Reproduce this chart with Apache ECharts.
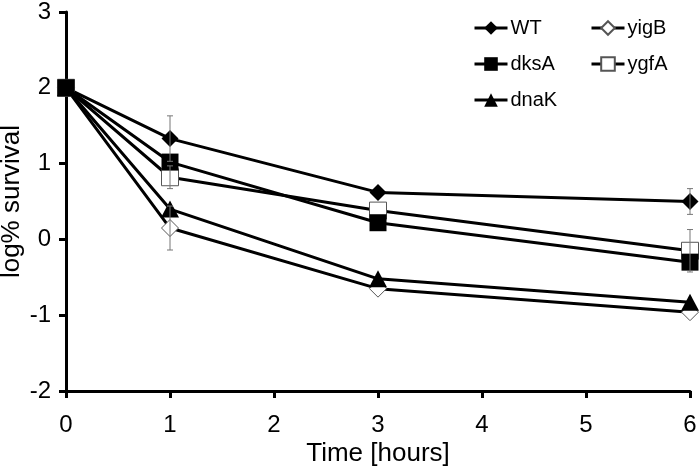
<!DOCTYPE html>
<html><head><meta charset="utf-8">
<script src="https://cdn.jsdelivr.net/npm/echarts@6/dist/echarts.min.js"></script>
<style>html,body{margin:0;padding:0;background:#fff}#c{width:700px;height:471px}</style>
</head><body><div id="c"></div>
<script>
var times = [0, 1, 3, 6];
var xTicks = [0, 1, 2, 3, 4, 5, 6];
var yTicks = [-2, -1, 0, 1, 2, 3];
var WT   = [2, 1.33, 0.62, 0.50];
var dksA = [2, 1.02, 0.22, -0.30];
var dnaK = [2, 0.40, -0.52, -0.83];
var yigB = [2, 0.15, -0.65, -0.96];
var ygfA = [2, 0.82, 0.38, -0.15];
// error bars: [time, value, error]
var errWT   = [[1, 1.33, 0.30], [6, 0.50, 0.17]];
var errYgfA = [[1, 0.82, 0.15], [6, -0.15, 0.28]];
var errYigB = [[1, 0.15, 0.29]];

function pts(v){ return times.map(function(t,i){ return [t, v[i]]; }); }
var FONT = 'Liberation Sans, Arial, Helvetica, sans-serif';

function lineSeries(name, vals, symbol, open, z){
  return {
    name: name, type: 'line', data: pts(vals), symbol: symbol,
    symbolSize: symbol === 'triangle' ? [18, 17] : 17,
    showAllSymbol: true, z: z,
    lineStyle: {color: '#000', width: 3},
    itemStyle: open ? {color: '#fff', borderColor: '#555', borderWidth: 1}
                    : {color: '#000', borderColor: '#000', borderWidth: 0},
    emphasis: {disabled: true}, animation: false
  };
}
function errSeries(data){
  return {
    type: 'custom', z: 10, silent: true, animation: false,
    data: data,
    renderItem: function(params, api){
      var x = api.value(0), y = api.value(1), e = api.value(2);
      var hi = api.coord([x, y + e]), lo = api.coord([x, y - e]);
      var st = {stroke: '#777', lineWidth: 1};
      return {type: 'group', children: [
        {type: 'line', shape: {x1: hi[0], y1: hi[1], x2: lo[0], y2: lo[1]}, style: st},
        {type: 'line', shape: {x1: hi[0]-3, y1: hi[1], x2: hi[0]+3, y2: hi[1]}, style: st},
        {type: 'line', shape: {x1: lo[0]-3, y1: lo[1], x2: lo[0]+3, y2: lo[1]}, style: st}
      ]};
    }
  };
}

var legendBase = {
  orient: 'vertical', top: 18, padding: 0,
  itemWidth: 33, itemHeight: 17, itemGap: 16,
  lineStyle: {width: 3, color: '#000'},
  textStyle: {fontSize: 20, color: '#000', fontFamily: FONT, padding: [0,0,0,-2]}
};

var chart = echarts.init(document.getElementById('c'), null, {renderer: 'canvas'});
chart.setOption({
  animation: false,
  textStyle: {fontFamily: FONT},
  grid: {left: 66, right: 10, top: 12, bottom: 80, containLabel: false, outerBoundsMode: 'none'},
  legend: [
    Object.assign({}, legendBase, {data: ['WT', 'dksA', 'dnaK'], left: 473}),
    Object.assign({}, legendBase, {data: ['yigB', 'ygfA'], left: 590})
  ],
  xAxis: {
    type: 'value', min: xTicks[0], max: xTicks[xTicks.length-1], interval: 1,
    name: 'Time [hours]', nameLocation: 'middle', nameGap: 50, nameMoveOverlap: false,
    nameTextStyle: {fontSize: 26, color: '#000', fontFamily: FONT},
    axisLine: {show: true, onZero: false, lineStyle: {color: '#000', width: 3}},
    axisTick: {show: true, length: 7, lineStyle: {color: '#000', width: 3}},
    axisLabel: {fontSize: 24, color: '#000', margin: 22, fontFamily: FONT},
    splitLine: {show: false}
  },
  yAxis: {
    type: 'value', min: yTicks[0], max: yTicks[yTicks.length-1], interval: 1,
    name: 'log% survival', nameLocation: 'middle', nameGap: 41, nameMoveOverlap: false,
    nameTextStyle: {fontSize: 26, color: '#000', fontFamily: FONT},
    axisLine: {show: true, onZero: false, lineStyle: {color: '#000', width: 3}},
    axisTick: {show: true, length: 7, lineStyle: {color: '#000', width: 3}},
    axisLabel: {fontSize: 24, color: '#000', margin: 15, fontFamily: FONT},
    splitLine: {show: false}
  },
  series: [
    lineSeries('WT', WT, 'diamond', false, 3),
    lineSeries('yigB', yigB, 'diamond', true, 3),
    lineSeries('ygfA', ygfA, 'rect', true, 3),
    lineSeries('dnaK', dnaK, 'triangle', false, 4),
    lineSeries('dksA', dksA, 'rect', false, 5),
    errSeries(errWT), errSeries(errYgfA), errSeries(errYigB)
  ]
});
</script></body></html>
